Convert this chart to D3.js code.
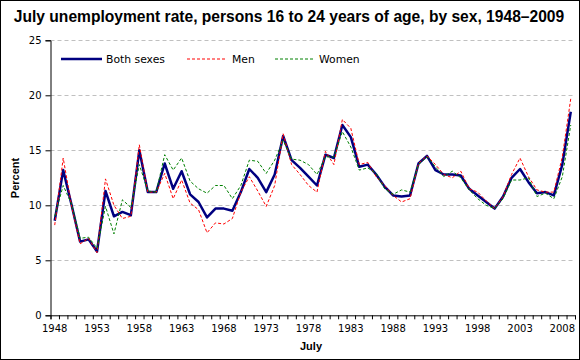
<!DOCTYPE html>
<html>
<head>
<meta charset="utf-8">
<script src="https://cdn.jsdelivr.net/npm/d3@7/dist/d3.min.js"></script>
<style>
  html, body { margin: 0; padding: 0; background: #fff; }
  svg { display: block; }
</style>
</head>
<body>
<svg id="chart" width="580" height="360"></svg>
<script>
// ---- data ----
const years = d3.range(1948, 2010);
const both = [
  8.6, 13.2, 10.0, 6.7, 6.9, 5.8, 11.3, 9.0, 9.4, 9.1,
  15.0, 11.2, 11.2, 13.8, 11.5, 13.1, 11.0, 10.3, 8.9, 9.7,
  9.7, 9.5, 11.2, 13.3, 12.5, 11.2, 12.8, 16.3, 14.1, 13.4,
  12.6, 11.8, 14.6, 14.3, 17.3, 16.2, 13.5, 13.7, 12.8, 11.7,
  10.9, 10.8, 10.9, 13.8, 14.5, 13.2, 12.8, 12.8, 12.7, 11.5,
  10.9, 10.3, 9.7, 10.8, 12.5, 13.3, 12.1, 11.1, 11.2, 10.9,
  13.7, 18.5
];
const men = [
  8.2, 14.3, 9.9, 6.5, 7.0, 5.7, 12.4, 10.0, 8.8, 9.0,
  15.5, 11.2, 11.2, 12.9, 10.6, 12.3, 10.2, 9.6, 7.5, 8.4,
  8.3, 8.8, 11.2, 12.6, 11.3, 9.9, 11.8, 16.5, 13.7, 12.8,
  11.8, 11.2, 14.9, 13.7, 17.8, 17.0, 13.7, 13.9, 12.6, 11.8,
  10.9, 10.3, 10.6, 13.8, 14.5, 13.7, 12.8, 12.5, 13.1, 11.5,
  11.2, 10.4, 9.7, 10.8, 12.8, 14.3, 12.6, 11.4, 11.2, 11.2,
  14.4, 19.7
];
const women = [
  9.0, 11.8, 10.1, 7.0, 7.1, 6.1, 9.9, 7.4, 10.5, 9.8,
  13.7, 11.3, 11.2, 14.6, 13.2, 14.3, 12.2, 11.5, 11.1, 11.8,
  11.8, 10.6, 11.8, 14.1, 14.0, 12.9, 14.1, 15.9, 14.2, 14.1,
  13.7, 12.8, 14.4, 14.4, 16.7, 15.3, 13.2, 13.4, 12.9, 11.5,
  11.0, 11.4, 11.2, 13.7, 14.4, 13.5, 12.6, 13.1, 12.5, 11.4,
  10.6, 10.0, 9.7, 10.6, 12.3, 12.3, 12.5, 10.8, 11.1, 10.6,
  12.6, 17.3
];
const yTicks = [0, 5, 10, 15, 20, 25];
const xLabelYears = years.filter(y => (y - 1948) % 5 === 0);
const seriesNames = ["Both sexes", "Men", "Women"];

// ---- layout ----
const W = 580, H = 360;
const plot = { left: 50.5, right: 575, top: 40.3, bottom: 315.3 };

const svg = d3.select("#chart");

// outer frame
svg.append("rect").attr("x", 0.5).attr("y", 0.5).attr("width", W - 1).attr("height", H - 1)
  .attr("fill", "#fff").attr("stroke", "#000").attr("stroke-width", 1);

const x = d3.scaleBand().domain(years).range([plot.left, plot.right]).padding(0);
const xc = d => x(d) + x.bandwidth() / 2;
const y = d3.scaleLinear().domain([0, 25]).range([plot.bottom, plot.top]);

// gridlines
svg.append("g").selectAll("line").data(yTicks.filter(t => t > 0)).join("line")
  .attr("x1", plot.left).attr("x2", plot.right)
  .attr("y1", d => Math.round(y(d)) + 0.5).attr("y2", d => Math.round(y(d)) + 0.5)
  .attr("stroke", "#c0c0c0").attr("stroke-width", 1).attr("stroke-dasharray", "4,3");

// y axis
const yAxis = svg.append("g").attr("transform", `translate(${plot.left},0)`)
  .call(d3.axisLeft(y).tickValues(yTicks).tickSize(5).tickPadding(4).tickFormat(d3.format("d")));
yAxis.select(".domain").attr("stroke", "#000");
yAxis.selectAll("text").attr("font-family", "DejaVu Sans, Verdana, sans-serif").attr("font-size", "10px").attr("fill", "#000");

// x axis: tick marks at category boundaries
const xEdge = d3.scaleLinear().domain([0, years.length]).range([plot.left, plot.right]);
const xTickAxis = svg.append("g").attr("transform", `translate(0,${plot.bottom})`)
  .call(d3.axisBottom(xEdge).tickValues(d3.range(0, years.length + 1)).tickSize(4).tickFormat(""));
xTickAxis.select(".domain").attr("stroke", "#000");
// x labels centred on categories
const xLab = svg.append("g").attr("transform", `translate(0,${plot.bottom})`)
  .call(d3.axisBottom(x).tickValues(xLabelYears).tickSize(0).tickPadding(10));
xLab.select(".domain").remove();
xLab.selectAll("text").attr("font-family", "DejaVu Sans, Verdana, sans-serif").attr("font-size", "10px").attr("fill", "#000");

// lines
const line = d3.line().x((d, i) => xc(years[i])).y(d => y(d));
svg.append("path").datum(both).attr("d", line)
  .attr("fill", "none").attr("stroke", "#000080").attr("stroke-width", 2.5).attr("stroke-linejoin", "round");
svg.append("path").datum(men).attr("d", line)
  .attr("fill", "none").attr("stroke", "#ff0000").attr("stroke-width", 1).attr("stroke-dasharray", "3,2");
svg.append("path").datum(women).attr("d", line)
  .attr("fill", "none").attr("stroke", "#008000").attr("stroke-width", 1).attr("stroke-dasharray", "3,2");

// legend
const legend = [
  { name: seriesNames[0], color: "#000080", w: 2.5, dash: null, x1: 61, x2: 102, tx: 106 },
  { name: seriesNames[1], color: "#ff0000", w: 1, dash: "3,2", x1: 187, x2: 226, tx: 232 },
  { name: seriesNames[2], color: "#008000", w: 1, dash: "3,2", x1: 275, x2: 314, tx: 319 }
];
const lg = svg.append("g");
legend.forEach(l => {
  lg.append("line").attr("x1", l.x1).attr("x2", l.x2).attr("y1", 59).attr("y2", 59)
    .attr("stroke", l.color).attr("stroke-width", l.w).attr("stroke-dasharray", l.dash);
  lg.append("text").attr("x", l.tx).attr("y", 63).text(l.name)
    .attr("font-family", "DejaVu Sans, Verdana, sans-serif").attr("font-size", "10.8px").attr("fill", "#000");
});

// title
svg.append("text").attr("x", 289).attr("y", 22).attr("text-anchor", "middle")
  .attr("font-family", "Liberation Sans, Arial, sans-serif").attr("font-weight", "bold").attr("font-size", "15.6px")
  .text("July unemployment rate, persons 16 to 24 years of age, by sex, 1948–2009");

// axis titles
svg.append("text").attr("x", 311).attr("y", 350).attr("text-anchor", "middle")
  .attr("font-family", "Liberation Sans, Arial, sans-serif").attr("font-weight", "bold").attr("font-size", "11px")
  .text("July");
svg.append("text").attr("transform", "translate(19,178) rotate(-90)").attr("text-anchor", "middle")
  .attr("font-family", "Liberation Sans, Arial, sans-serif").attr("font-weight", "bold").attr("font-size", "11px")
  .text("Percent");
</script>
</body>
</html>
